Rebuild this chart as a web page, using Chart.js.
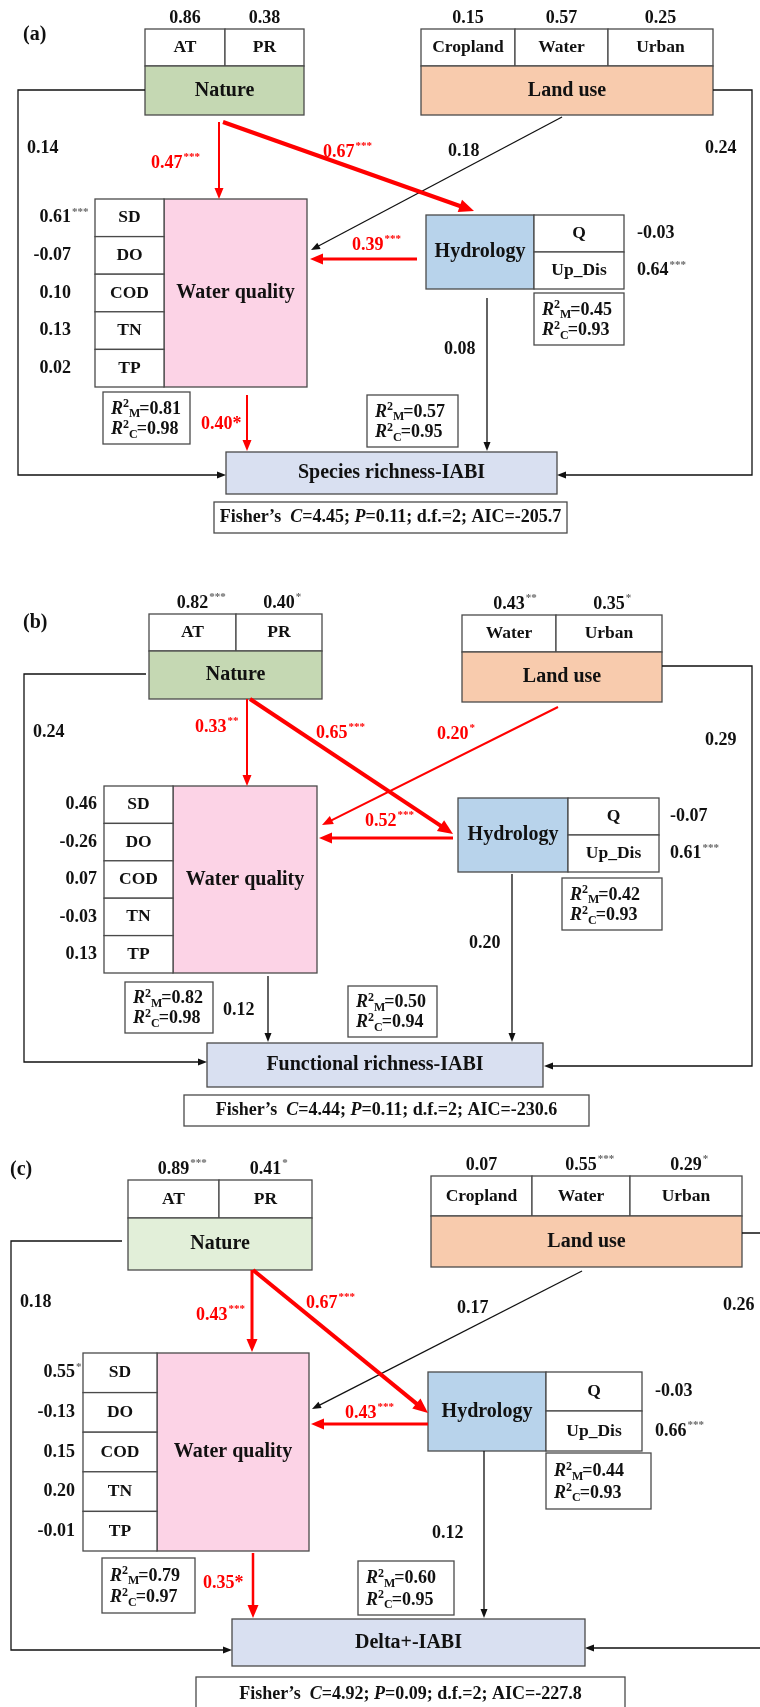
<!DOCTYPE html>
<html>
<head>
<meta charset="utf-8">
<script src="https://cdn.jsdelivr.net/npm/chart.js@4.4.0/dist/chart.umd.min.js"></script>
<style>
  body { margin: 0; background: #fff; }
  #wrap { width: 760px; height: 1707px; position: relative; }
</style>
</head>
<body>
<div id="wrap"><canvas id="semChart"></canvas></div>
<script>
// --- data: loadings ---
const panelTags = ['(a)', '(b)', '(c)'];
const natureVars = ['AT', 'PR'];
const natureLoadings = [[0.86, 0.38], [0.82, 0.40], [0.89, 0.41]];
const natureStars = [['', ''], ['***', '*'], ['***', '*']];
const landVars = [['Cropland', 'Water', 'Urban'], ['Water', 'Urban'], ['Cropland', 'Water', 'Urban']];
const landLoadings = [[0.15, 0.57, 0.25], [0.43, 0.35], [0.07, 0.55, 0.29]];
const landStars = [['', '', ''], ['**', '*'], ['', '***', '*']];
const wqVars = ['SD', 'DO', 'COD', 'TN', 'TP'];
const wqLoadings = [[0.61, -0.07, 0.10, 0.13, 0.02], [0.46, -0.26, 0.07, -0.03, 0.13], [0.55, -0.13, 0.15, 0.20, -0.01]];
const wqStars = [['***', '', '', '', ''], ['', '', '', '', ''], ['*', '', '', '', '']];
const hydVars = ['Q', 'Up_Dis'];
const hydLoadings = [[-0.03, 0.64], [-0.07, 0.61], [-0.03, 0.66]];
const hydStars = [['', '***'], ['', '***'], ['', '***']];
const responseNames = ['Species richness-IABI', 'Functional richness-IABI', 'Delta+-IABI'];

// --- data: path coefficients ---
const natToWq = [0.47, 0.33, 0.43];
const natToWqSig = ['***', '**', '***'];
const natToHyd = [0.67, 0.65, 0.67];
const natToHydSig = ['***', '***', '***'];
const landToWq = [0.18, 0.20, 0.17];
const landToWqSig = ['', '*', ''];
const hydToWq = [0.39, 0.52, 0.43];
const hydToWqSig = ['***', '***', '***'];
const wqToResp = [0.40, 0.12, 0.35];
const wqToRespSig = ['*', '', '*'];
const hydToResp = [0.08, 0.20, 0.12];
const natToResp = [0.14, 0.24, 0.18];
const landToResp = [0.24, 0.29, 0.26];

// --- data: fit ---
const r2mWq = [0.81, 0.82, 0.79];
const r2cWq = [0.98, 0.98, 0.97];
const r2mHyd = [0.45, 0.42, 0.44];
const r2cHyd = [0.93, 0.93, 0.93];
const r2mResp = [0.57, 0.50, 0.60];
const r2cResp = [0.95, 0.94, 0.95];
const fisherC = [4.45, 4.44, 4.92];
const fisherP = [0.11, 0.11, 0.09];
const fisherDf = [2, 2, 2];
const fisherAIC = [-205.7, -230.6, -227.8];

// --- layout (box geometry per panel) ---
const layouts = [
  {
    tag: [23, 35], natFill: '#c5d8b3',
    nat: { x0: 145, x1: 304, top: 29, mid: 66, bot: 115, divs: [225] },
    land: { x0: 421, x1: 713, top: 29, mid: 66, bot: 115, divs: [515, 608] },
    wq: { x0: 95, xm: 164, x1: 307, top: 199, bot: 387, numX: 71 },
    hyd: { x0: 426, xm: 534, x1: 624, top: 215, mid: 252, bot: 289, numX: 637 },
    resp: { x0: 226, x1: 557, top: 452, bot: 494 },
    fisher: { x0: 214, x1: 567, top: 502, bot: 533 },
    r2Wq: [103, 392, 190, 444], r2Hyd: [534, 293, 624, 345], r2Resp: [367, 395, 458, 447],
    paths: {
      natToWq: { pts: [[219, 122], [219, 199]], w: 2, lab: [151, 163] },
      natToHyd: { pts: [[223, 122], [474, 211]], w: 4, lab: [323, 152] },
      landToWq: { pts: [[562, 117], [311, 250]], w: 1.3, lab: [448, 151] },
      hydToWq: { pts: [[417, 259], [310, 259]], w: 3, lab: [352, 245] },
      wqToResp: { pts: [[247, 395], [247, 451]], w: 2, lab: [201, 424], inline: true },
      hydToResp: { pts: [[487, 298], [487, 451]], w: 1.3, lab: [444, 349] },
      natToResp: { pts: [[145, 90], [18, 90], [18, 475], [226, 475]], w: 1.3, lab: [27, 148] },
      landToResp: { pts: [[713, 90], [752, 90], [752, 475], [557, 475]], w: 1.3, lab: [705, 148] }
    }
  },
  {
    tag: [23, 623], natFill: '#c5d8b3',
    nat: { x0: 149, x1: 322, top: 614, mid: 651, bot: 699, divs: [236] },
    land: { x0: 462, x1: 662, top: 615, mid: 652, bot: 702, divs: [556] },
    wq: { x0: 104, xm: 173, x1: 317, top: 786, bot: 973, numX: 97 },
    hyd: { x0: 458, xm: 568, x1: 659, top: 798, mid: 835, bot: 872, numX: 670 },
    resp: { x0: 207, x1: 543, top: 1043, bot: 1087 },
    fisher: { x0: 184, x1: 589, top: 1095, bot: 1126 },
    r2Wq: [125, 982, 213, 1033], r2Hyd: [562, 878, 662, 930], r2Resp: [348, 986, 437, 1037],
    paths: {
      natToWq: { pts: [[247, 699], [247, 786]], w: 2, lab: [195, 727] },
      natToHyd: { pts: [[250, 699], [453, 834]], w: 4, lab: [316, 733] },
      landToWq: { pts: [[558, 707], [322, 825]], w: 2, lab: [437, 734] },
      hydToWq: { pts: [[453, 838], [319, 838]], w: 3, lab: [365, 821] },
      wqToResp: { pts: [[268, 976], [268, 1042]], w: 1.3, lab: [223, 1010] },
      hydToResp: { pts: [[512, 874], [512, 1042]], w: 1.3, lab: [469, 943] },
      natToResp: { pts: [[146, 674], [24, 674], [24, 1062], [207, 1062]], w: 1.3, lab: [33, 732] },
      landToResp: { pts: [[662, 666], [752, 666], [752, 1066], [544, 1066]], w: 1.3, lab: [705, 740] }
    }
  },
  {
    tag: [10, 1170], natFill: '#e2efd9',
    nat: { x0: 128, x1: 312, top: 1180, mid: 1218, bot: 1270, divs: [219] },
    land: { x0: 431, x1: 742, top: 1176, mid: 1216, bot: 1267, divs: [532, 630] },
    wq: { x0: 83, xm: 157, x1: 309, top: 1353, bot: 1551, numX: 75 },
    hyd: { x0: 428, xm: 546, x1: 642, top: 1372, mid: 1411, bot: 1451, numX: 655 },
    resp: { x0: 232, x1: 585, top: 1619, bot: 1666 },
    fisher: { x0: 196, x1: 625, top: 1677, bot: 1712 },
    r2Wq: [102, 1558, 195, 1613], r2Hyd: [546, 1453, 651, 1509], r2Resp: [358, 1561, 454, 1615],
    paths: {
      natToWq: { pts: [[252, 1270], [252, 1352]], w: 3, lab: [196, 1315] },
      natToHyd: { pts: [[253, 1270], [428, 1413]], w: 4, lab: [306, 1303] },
      landToWq: { pts: [[582, 1271], [312, 1409]], w: 1.3, lab: [457, 1308] },
      hydToWq: { pts: [[428, 1424], [311, 1424]], w: 3, lab: [345, 1413] },
      wqToResp: { pts: [[253, 1553], [253, 1618]], w: 2.5, lab: [203, 1583], inline: true },
      hydToResp: { pts: [[484, 1451], [484, 1618]], w: 1.3, lab: [432, 1533] },
      natToResp: { pts: [[122, 1241], [11, 1241], [11, 1650], [232, 1650]], w: 1.3, lab: [20, 1302] },
      landToResp: { pts: [[742, 1233], [775, 1233], [775, 1648], [585, 1648]], w: 1.3, lab: [723, 1305] }
    }
  }
];

const pathValues = {
  natToWq: [natToWq, natToWqSig],
  natToHyd: [natToHyd, natToHydSig],
  landToWq: [landToWq, landToWqSig],
  hydToWq: [hydToWq, hydToWqSig],
  wqToResp: [wqToResp, wqToRespSig],
  hydToResp: [hydToResp, ['', '', '']],
  natToResp: [natToResp, ['', '', '']],
  landToResp: [landToResp, ['', '', '']]
};

const RED = '#ff0000';
const BORDER = '#4a4a4a';
const SERIF = '"Liberation Serif", "Times New Roman", serif';
const fmt = v => v.toFixed(2);

function headSize(w) {
  return w >= 3.5 ? [15, 6.5] : w >= 2.5 ? [13, 5.5] : w >= 1.8 ? [11, 4.5] : [9, 3.5];
}

// line datasets, one per path, tip shortened so the head sits on it
const datasets = [];
layouts.forEach((L, p) => {
  Object.keys(L.paths).forEach(key => {
    const path = L.paths[key];
    const sig = pathValues[key][1][p];
    const pts = path.pts.map(([x, y]) => ({ x, y }));
    const a = pts[pts.length - 2], b = pts[pts.length - 1];
    const len = Math.hypot(b.x - a.x, b.y - a.y);
    const cut = headSize(path.w)[0] * 0.7;
    pts[pts.length - 1] = { x: b.x - (b.x - a.x) / len * cut, y: b.y - (b.y - a.y) / len * cut };
    datasets.push({
      data: pts,
      showLine: true,
      borderColor: sig ? RED : '#111',
      borderWidth: path.w,
      pointRadius: 0,
      tension: 0
    });
  });
});

function numWithStars(ctx, num, stars, x, y, align, color, size) {
  ctx.font = 'bold ' + size + 'px ' + SERIF;
  const w = ctx.measureText(num).width;
  let x0 = align === 'center' ? x - w / 2 : align === 'right' ? x - w : x;
  ctx.fillStyle = color;
  ctx.textAlign = 'left';
  ctx.textBaseline = 'middle';
  ctx.fillText(num, x0, y);
  if (stars) {
    ctx.font = 'bold 11px ' + SERIF;
    ctx.fillStyle = color === RED ? RED : '#666';
    ctx.fillText(stars, x0 + w + 1, y - size * 0.3);
  }
}

function box(ctx, x0, y0, x1, y1, fill) {
  ctx.fillStyle = fill;
  ctx.fillRect(x0, y0, x1 - x0, y1 - y0);
  ctx.lineWidth = 1.3;
  ctx.strokeStyle = BORDER;
  ctx.strokeRect(x0, y0, x1 - x0, y1 - y0);
}

function label(ctx, text, x, y, size) {
  ctx.font = 'bold ' + size + 'px ' + SERIF;
  ctx.fillStyle = '#111';
  ctx.textAlign = 'center';
  ctx.textBaseline = 'middle';
  ctx.fillText(text, x, y);
}

function r2Line(ctx, sub, val, x, y) {
  ctx.fillStyle = '#111';
  ctx.textAlign = 'left';
  ctx.textBaseline = 'middle';
  ctx.font = 'italic bold 18px ' + SERIF;
  ctx.fillText('R', x, y);
  let cx = x + ctx.measureText('R').width;
  ctx.font = 'bold 12px ' + SERIF;
  ctx.fillText('2', cx, y - 5);
  cx += ctx.measureText('2').width;
  ctx.fillText(sub, cx, y + 5);
  cx += ctx.measureText(sub).width - 1;
  ctx.font = 'bold 18px ' + SERIF;
  ctx.fillText('=' + fmt(val), cx, y);
}

const sem = {
  id: 'sem',
  beforeDatasetsDraw(chart) {
    const ctx = chart.ctx;
    const xs = chart.scales.x, ys = chart.scales.y;
    const X = v => xs.getPixelForValue(v), Y = v => ys.getPixelForValue(v);
    ctx.save();
    layouts.forEach((L, p) => {
      label(ctx, '', 0, 0, 10);
      ctx.font = 'bold 20px ' + SERIF;
      ctx.fillStyle = '#111';
      ctx.textAlign = 'left';
      ctx.textBaseline = 'middle';
      ctx.fillText(panelTags[p], X(L.tag[0]), Y(L.tag[1]));

      // Nature
      const n = L.nat;
      const nEdges = [n.x0].concat(n.divs, [n.x1]);
      natureVars.forEach((v, i) => {
        box(ctx, X(nEdges[i]), Y(n.top), X(nEdges[i + 1]), Y(n.mid), '#fff');
        const cx = (nEdges[i] + nEdges[i + 1]) / 2;
        label(ctx, v, X(cx), Y((n.top + n.mid) / 2), 17.5);
        numWithStars(ctx, fmt(natureLoadings[p][i]), natureStars[p][i], X(cx), Y(n.top - 11), 'center', '#111', 18);
      });
      box(ctx, X(n.x0), Y(n.mid), X(n.x1), Y(n.bot), L.natFill);
      label(ctx, 'Nature', X((n.x0 + n.x1) / 2), Y((n.mid + n.bot) / 2), 20);

      // Land use
      const l = L.land;
      const lEdges = [l.x0].concat(l.divs, [l.x1]);
      landVars[p].forEach((v, i) => {
        box(ctx, X(lEdges[i]), Y(l.top), X(lEdges[i + 1]), Y(l.mid), '#fff');
        const cx = (lEdges[i] + lEdges[i + 1]) / 2;
        label(ctx, v, X(cx), Y((l.top + l.mid) / 2), 17.5);
        numWithStars(ctx, fmt(landLoadings[p][i]), landStars[p][i], X(cx), Y(l.top - 11), 'center', '#111', 18);
      });
      box(ctx, X(l.x0), Y(l.mid), X(l.x1), Y(l.bot), '#f8cbad');
      label(ctx, 'Land use', X((l.x0 + l.x1) / 2), Y((l.mid + l.bot) / 2), 20);

      // Water quality
      const q = L.wq;
      const rh = (q.bot - q.top) / wqVars.length;
      box(ctx, X(q.xm), Y(q.top), X(q.x1), Y(q.bot), '#fcd3e6');
      wqVars.forEach((v, i) => {
        const y0 = q.top + i * rh;
        box(ctx, X(q.x0), Y(y0), X(q.xm), Y(y0 + rh), '#fff');
        label(ctx, v, X((q.x0 + q.xm) / 2), Y(y0 + rh / 2), 17.5);
        numWithStars(ctx, fmt(wqLoadings[p][i]), wqStars[p][i], X(q.numX), Y(y0 + rh / 2), 'right', '#111', 18);
      });
      label(ctx, 'Water quality', X((q.xm + q.x1) / 2), Y((q.top + q.bot) / 2), 20);

      // Hydrology
      const h = L.hyd;
      box(ctx, X(h.x0), Y(h.top), X(h.xm), Y(h.bot), '#b8d3eb');
      label(ctx, 'Hydrology', X((h.x0 + h.xm) / 2), Y((h.top + h.bot) / 2), 20);
      [[h.top, h.mid], [h.mid, h.bot]].forEach(([a, b], i) => {
        box(ctx, X(h.xm), Y(a), X(h.x1), Y(b), '#fff');
        label(ctx, hydVars[i], X((h.xm + h.x1) / 2), Y((a + b) / 2), 17.5);
        numWithStars(ctx, fmt(hydLoadings[p][i]), hydStars[p][i], X(h.numX), Y((a + b) / 2), 'left', '#111', 18);
      });

      // Response
      const r = L.resp;
      box(ctx, X(r.x0), Y(r.top), X(r.x1), Y(r.bot), '#d9e0f1');
      label(ctx, responseNames[p], X((r.x0 + r.x1) / 2), Y((r.top + r.bot) / 2), 20);

      // R2 boxes
      [[L.r2Wq, r2mWq, r2cWq], [L.r2Hyd, r2mHyd, r2cHyd], [L.r2Resp, r2mResp, r2cResp]].forEach(([b, m, c]) => {
        box(ctx, X(b[0]), Y(b[1]), X(b[2]), Y(b[3]), '#fff');
        const hh = b[3] - b[1];
        r2Line(ctx, 'M', m[p], X(b[0] + 8), Y(b[1] + hh * 0.33));
        r2Line(ctx, 'C', c[p], X(b[0] + 8), Y(b[1] + hh * 0.72));
      });

      // Fisher's C box
      const f = L.fisher;
      box(ctx, X(f.x0), Y(f.top), X(f.x1), Y(f.bot), '#fff');
      const parts = [
        ['bold', 'Fisher\u2019s  '], ['italic bold', 'C'], ['bold', '=' + fmt(fisherC[p]) + '; '],
        ['italic bold', 'P'], ['bold', '=' + fmt(fisherP[p]) + '; d.f.=' + fisherDf[p] + '; AIC=' + fisherAIC[p].toFixed(1)]
      ];
      let total = 0;
      parts.forEach(([st, t]) => { ctx.font = st + ' 18px ' + SERIF; total += ctx.measureText(t).width; });
      let fx = X((f.x0 + f.x1) / 2) - total / 2;
      ctx.textAlign = 'left';
      ctx.textBaseline = 'middle';
      ctx.fillStyle = '#111';
      const fy = Y(Math.min((f.top + f.bot) / 2, f.top + 17));
      parts.forEach(([st, t]) => {
        ctx.font = st + ' 18px ' + SERIF;
        ctx.fillText(t, fx, fy);
        fx += ctx.measureText(t).width;
      });
    });
    ctx.restore();
  },
  afterDatasetsDraw(chart) {
    const ctx = chart.ctx;
    const xs = chart.scales.x, ys = chart.scales.y;
    const X = v => xs.getPixelForValue(v), Y = v => ys.getPixelForValue(v);
    ctx.save();
    layouts.forEach((L, p) => {
      Object.keys(L.paths).forEach(key => {
        const path = L.paths[key];
        const [vals, sigs] = pathValues[key];
        const color = sigs[p] ? RED : '#111';
        // arrow head
        const pts = path.pts;
        const a = pts[pts.length - 2], b = pts[pts.length - 1];
        const ax = X(a[0]), ay = Y(a[1]), bx = X(b[0]), by = Y(b[1]);
        const ang = Math.atan2(by - ay, bx - ax);
        const [hl, hw] = headSize(path.w);
        ctx.fillStyle = color;
        ctx.beginPath();
        ctx.moveTo(bx, by);
        ctx.lineTo(bx - hl * Math.cos(ang) + hw * Math.sin(ang), by - hl * Math.sin(ang) - hw * Math.cos(ang));
        ctx.lineTo(bx - hl * Math.cos(ang) - hw * Math.sin(ang), by - hl * Math.sin(ang) + hw * Math.cos(ang));
        ctx.closePath();
        ctx.fill();
        // coefficient
        if (path.inline) {
          numWithStars(ctx, fmt(vals[p]) + sigs[p], '', X(path.lab[0]), Y(path.lab[1]), 'left', color, 18);
        } else {
          numWithStars(ctx, fmt(vals[p]), sigs[p], X(path.lab[0]), Y(path.lab[1]), 'left', color, 18);
        }
      });
    });
    ctx.restore();
  }
};

new Chart(document.getElementById('semChart'), {
  type: 'scatter',
  data: { datasets: datasets },
  options: {
    responsive: true,
    maintainAspectRatio: false,
    animation: false,
    layout: { padding: 0 },
    plugins: { legend: { display: false }, tooltip: { enabled: false } },
    scales: {
      x: { type: 'linear', min: 0, max: 760, display: false },
      y: { type: 'linear', min: 0, max: 1707, reverse: true, display: false }
    }
  },
  plugins: [sem]
});
</script>
</body>
</html>
